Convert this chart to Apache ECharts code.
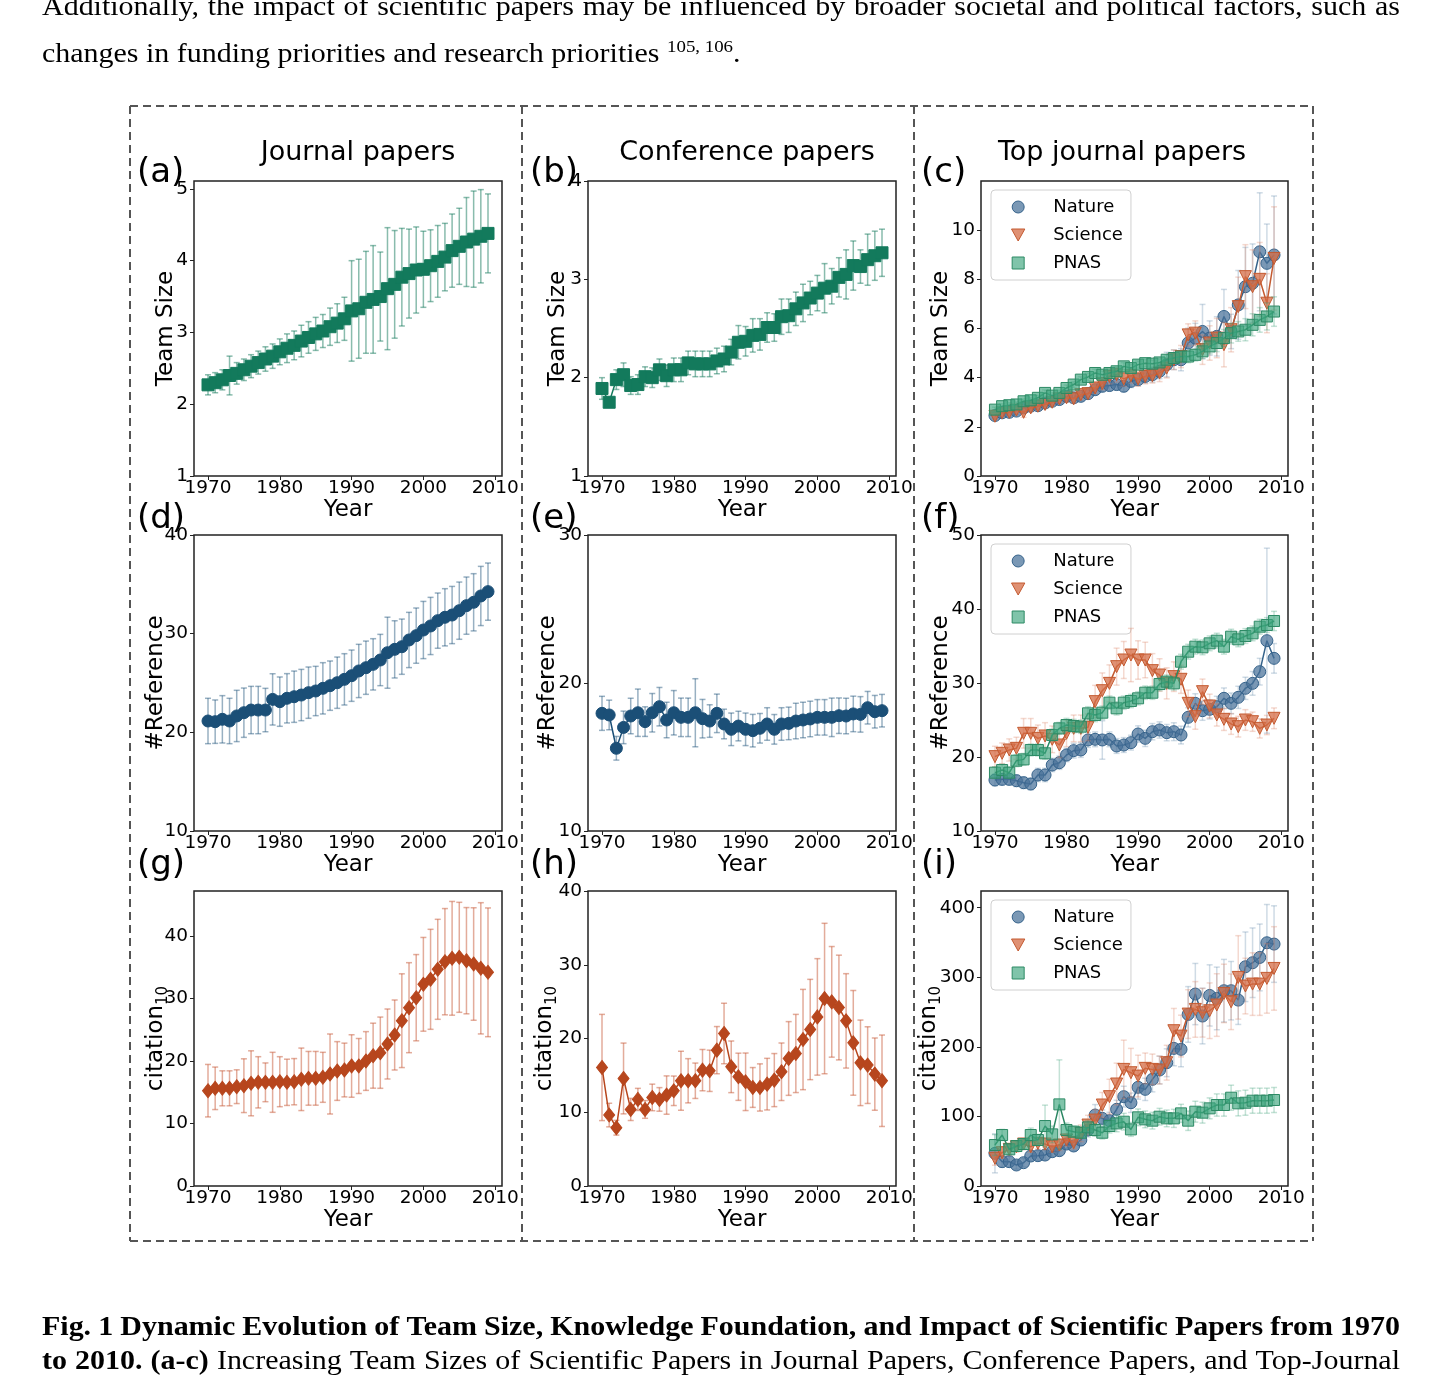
<!DOCTYPE html>
<html>
<head>
<meta charset="utf-8">
<script src="https://cdn.jsdelivr.net/npm/echarts@6/dist/echarts.min.js"></script>
<style>
html, body { margin: 0; padding: 0; background: #fff; }
#main { width: 1444px; height: 1382px; }
</style>
</head>
<body>
<div id="main"></div>
<script>
// years shared by every panel
var years = [1970,1971,1972,1973,1974,1975,1976,1977,1978,1979,1980,1981,1982,1983,1984,1985,1986,1987,1988,1989,
             1990,1991,1992,1993,1994,1995,1996,1997,1998,1999,2000,2001,2002,2003,2004,2005,2006,2007,2008,2009];
var xTicks = [1970, 1980, 1990, 2000, 2010];
var journals = ['Nature', 'Science', 'PNAS'];

// (a) team size, journal papers
var jTeam    = [2.27,2.30,2.34,2.40,2.43,2.48,2.53,2.58,2.63,2.67,2.73,2.78,2.82,2.88,2.93,2.98,3.02,3.08,3.13,3.19,
                3.30,3.33,3.42,3.46,3.50,3.61,3.67,3.77,3.82,3.87,3.88,3.93,3.99,4.05,4.14,4.20,4.26,4.30,4.34,4.38];
var jTeamErr = [0.14,0.14,0.14,0.27,0.15,0.15,0.16,0.16,0.17,0.17,0.18,0.20,0.20,0.22,0.22,0.23,0.23,0.26,0.27,0.30,
                0.70,0.69,0.71,0.75,0.62,0.85,0.75,0.68,0.62,0.60,0.53,0.50,0.50,0.47,0.51,0.53,0.62,0.67,0.65,0.55];
// (b) team size, conference papers
var cTeam    = [1.89,1.75,1.98,2.03,1.92,1.93,2.01,2.00,2.08,2.02,2.08,2.08,2.15,2.14,2.14,2.14,2.17,2.19,2.26,2.36,
                2.37,2.43,2.44,2.51,2.51,2.62,2.63,2.70,2.76,2.81,2.86,2.91,2.93,3.02,3.05,3.14,3.13,3.20,3.24,3.27];
var cTeamErr = [0.11,0.05,0.10,0.12,0.09,0.10,0.10,0.10,0.11,0.11,0.12,0.12,0.12,0.13,0.13,0.13,0.13,0.13,0.13,0.17,
                0.15,0.17,0.16,0.15,0.14,0.18,0.17,0.17,0.19,0.17,0.18,0.25,0.18,0.20,0.25,0.25,0.17,0.26,0.25,0.24];
// (c) team size, top journals
var nTeam    = [2.46,2.57,2.59,2.64,2.77,2.84,2.86,2.97,3.04,3.11,3.24,3.18,3.24,3.35,3.51,3.65,3.68,3.72,3.65,3.85,
                3.92,4.05,4.12,4.26,4.53,4.73,4.73,5.41,5.61,5.88,5.61,5.68,6.49,5.88,6.96,7.70,7.84,9.12,8.65,8.99];
var nTeamErr = [0.12,0.12,0.12,0.13,0.15,0.15,0.15,0.15,0.15,0.15,0.18,0.18,0.18,0.20,0.20,0.22,0.22,0.22,0.22,0.25,
                0.25,0.27,0.30,0.30,0.50,0.40,0.45,0.60,0.60,1.10,0.70,0.80,1.10,0.70,1.40,1.60,1.60,2.40,1.60,2.40];
var sTeam    = [2.43,2.57,2.59,2.68,2.59,2.77,2.84,2.91,3.00,3.14,3.18,3.14,3.31,3.35,3.58,3.76,4.05,4.12,3.95,4.08,
                3.95,4.05,4.08,4.19,4.39,4.73,4.86,5.74,5.81,5.14,5.41,5.61,5.34,5.95,6.89,8.11,7.70,8.00,7.03,8.85];
var sTeamErr = [0.12,0.12,0.12,0.12,0.20,0.15,0.15,0.15,0.15,0.15,0.18,0.18,0.20,0.20,0.22,0.25,0.30,0.30,0.30,0.30,
                0.30,0.30,0.30,0.35,0.40,0.40,0.45,0.45,0.50,0.60,0.70,0.80,0.90,0.90,1.20,1.30,1.50,1.50,1.20,2.10];
var pTeam    = [2.70,2.84,2.88,2.91,3.04,3.08,3.18,3.38,3.27,3.38,3.58,3.72,3.92,4.03,4.19,4.12,4.19,4.26,4.46,4.39,
                4.53,4.59,4.57,4.62,4.73,4.80,4.86,4.86,4.93,5.07,5.27,5.41,5.61,5.81,5.88,5.95,6.15,6.35,6.49,6.69];
var pTeamErr = [0.10,0.10,0.10,0.10,0.10,0.10,0.10,0.12,0.12,0.12,0.12,0.12,0.12,0.15,0.15,0.15,0.15,0.15,0.15,0.15,
                0.15,0.15,0.15,0.15,0.20,0.20,0.20,0.25,0.25,0.30,0.30,0.35,0.35,0.40,0.40,0.45,0.45,0.50,0.55,0.60];

// (d) #reference, journal papers
var jRef    = [21.15,21.08,21.32,21.15,21.66,21.99,22.26,22.26,22.26,23.34,23.11,23.45,23.61,23.78,24.02,24.19,24.46,24.73,25.03,25.37,
               25.74,26.22,26.55,26.89,27.33,28.07,28.41,28.68,29.36,29.80,30.37,30.78,31.32,31.66,31.89,32.33,32.84,33.18,33.82,34.26];
var jRefErr = [2.3,2.2,2.4,2.3,2.6,2.5,2.4,2.4,2.2,2.6,2.5,2.5,2.6,2.6,2.6,2.5,2.6,2.5,2.6,2.6,
               2.6,2.7,2.7,2.6,2.6,3.6,2.9,2.8,2.8,2.8,2.9,2.9,2.8,2.9,2.9,2.9,2.9,2.9,3.0,2.9];
// (e) #reference, conference papers
var cRef    = [17.95,17.84,15.59,17.00,17.77,17.99,17.39,17.99,18.40,17.50,17.99,17.68,17.68,17.99,17.59,17.43,17.95,17.23,16.87,17.09,
               16.87,16.78,16.94,17.23,16.87,17.23,17.27,17.43,17.50,17.57,17.68,17.68,17.68,17.79,17.77,17.91,17.88,18.33,18.06,18.13];
var cRefErr = [1.15,1.0,0.8,1.1,1.2,1.6,1.0,1.3,1.3,1.2,1.5,1.3,1.3,2.3,1.3,1.1,1.3,1.0,1.1,1.0,
               1.1,1.1,1.0,1.1,1.0,1.1,1.1,1.2,1.2,1.2,1.2,1.2,1.3,1.2,1.2,1.2,1.2,1.1,1.1,1.1];
// (f) #reference, top journals
var nRef    = [16.89,16.98,16.98,16.80,16.53,16.35,17.57,17.57,18.92,19.23,20.27,20.86,20.95,22.30,22.39,22.30,22.39,21.49,21.62,21.94,
               23.11,22.52,23.42,23.65,23.29,23.42,22.97,25.36,27.25,26.26,26.44,26.80,27.93,27.25,28.06,29.28,29.95,31.53,35.72,33.33];
var nRefErr = [0.8,0.8,0.8,0.8,0.8,0.8,0.9,0.9,0.9,0.9,0.9,1.0,1.0,1.0,1.0,2.6,1.0,1.0,1.0,1.0,
               1.1,1.1,1.1,1.1,1.1,1.2,1.2,1.3,1.3,1.3,1.3,1.4,1.4,1.4,1.5,1.5,1.6,1.8,12.5,2.0];
var sRef    = [20.05,20.50,20.95,21.17,23.20,23.20,22.52,22.84,22.39,21.62,23.20,23.87,23.87,24.01,27.48,28.96,29.95,32.21,33.11,33.78,
               33.11,33.11,31.67,31.08,29.95,30.86,30.50,27.25,25.45,28.83,26.89,25.68,25.09,24.46,24.10,25.00,24.77,23.87,24.32,25.23];
var sRefErr = [1.4,1.4,1.5,1.5,2.0,2.0,1.8,1.8,1.8,1.7,1.8,1.8,1.8,1.8,2.2,2.4,2.5,2.5,2.5,3.6,
               2.6,2.4,2.3,2.2,2.1,2.0,1.9,1.8,1.7,1.7,1.6,1.5,1.5,1.4,1.4,1.4,1.3,1.3,1.3,1.4];
var pRef    = [17.88,18.24,17.88,19.50,19.68,20.95,20.95,20.50,22.97,23.87,24.32,24.19,24.10,25.90,25.68,25.99,27.34,26.58,27.34,27.57,
               27.93,28.69,28.69,29.86,30.18,29.95,32.88,34.23,34.91,34.82,35.36,35.72,34.91,36.26,35.90,36.35,36.71,37.61,37.84,38.38];
var pRefErr = [0.8,0.8,0.8,0.8,0.8,0.8,0.8,0.8,0.8,0.8,0.9,0.9,0.9,0.9,0.9,0.9,0.9,0.9,0.9,0.9,
               0.9,0.9,0.9,0.9,0.9,0.9,1.0,1.0,1.0,1.0,1.0,1.0,1.0,1.0,1.0,1.0,1.0,1.0,1.0,1.3];

// (g) citation10, journal papers
var jCit    = [15.25,15.63,15.63,15.63,15.89,16.05,16.43,16.59,16.59,16.59,16.69,16.59,16.69,17.07,17.23,17.23,17.39,17.92,18.40,18.56,
               19.20,19.20,20.00,20.85,21.33,22.72,24.16,26.45,28.53,30.13,32.27,33.07,34.67,35.89,36.43,36.59,36.05,35.52,34.83,34.19];
var jCitErr = [4.2,3.4,2.8,2.8,2.7,4.3,5.2,4.1,3.1,4.8,4.0,3.7,3.7,5.0,4.3,4.3,4.0,6.4,4.7,4.3,
               5.0,4.4,4.7,5.2,5.7,5.6,5.6,7.5,7.2,6.9,7.5,8.0,8.0,8.5,9.1,8.8,8.5,9.0,10.5,10.3];
// (h) citation10, conference papers
var cCit    = [16.07,9.62,7.90,14.58,10.38,11.74,10.38,12.01,11.74,12.33,12.91,14.27,14.27,14.27,15.71,15.62,18.42,20.68,16.16,14.81,
               14.13,13.36,13.36,13.81,14.36,15.49,17.29,17.97,19.86,21.22,22.93,25.42,24.97,24.20,22.39,19.41,16.70,16.39,15.17,14.27];
var cCitErr = [7.2,1.6,1.0,4.8,1.5,1.5,1.2,1.8,1.6,2.6,2.0,4.0,3.0,2.4,2.8,2.8,3.2,4.1,3.5,3.2,
               3.9,2.7,3.2,3.5,3.6,3.9,5.0,5.3,6.8,6.8,7.9,10.2,7.5,7.1,6.4,7.1,5.8,5.2,4.9,6.2];
// (i) citation10, top journals
var nCit    = [46.9,35.0,35.0,30.2,33.5,43.1,43.6,44.5,49.3,50.8,60.3,57.5,66.1,80.5,102.0,97.2,93.9,110.2,128.4,119.7,
               141.8,138.9,153.3,166.7,177.2,197.8,196.4,246.6,275.9,244.3,273.9,269.6,280.7,280.7,267.2,315.1,320.9,328.5,349.6,347.7];
var nCitErr = [28,8,8,6,6,7,7,7,7,7,7,7,8,10,15,12,12,13,15,14,
               17,16,18,20,20,25,25,40,44,40,44,45,45,42,35,50,50,48,55,55];
var sCit    = [39.8,47.9,52.7,56.5,60.3,56.5,61.3,60.3,56.5,58.9,66.1,62.3,75.7,87.6,94.8,116.4,128.4,146.6,167.6,162.8,
               158.0,169.1,167.6,166.7,177.2,223.2,215.5,247.1,253.8,249.0,251.9,260.1,276.8,264.8,299.8,287.4,290.2,290.2,298.4,312.7];
var sCitErr = [10,8,8,8,8,8,8,8,8,8,9,9,12,14,15,18,25,30,42,35,
               30,22,22,20,25,32,30,35,40,35,40,45,42,40,60,40,45,45,50,60];
var pCit    = [58.9,73.3,52.7,57.5,60.3,73.3,66.1,86.2,74.2,117.3,80.5,78.1,76.6,84.3,80.5,76.6,86.2,90.0,92.4,81.4,
               98.7,95.8,93.9,99.6,97.2,97.2,104.4,93.9,106.8,105.4,111.6,116.4,116.4,126.9,118.8,119.7,122.6,122.6,122.6,123.6];
var pCitErr = [15,8,7,7,7,10,8,30,12,64,10,8,8,10,9,9,10,12,12,10,
               12,12,12,12,12,13,13,14,15,15,15,16,16,18,18,18,18,18,18,18];

var FONT = 'DejaVu Sans';
var SERIF = '"Liberation Serif", "Times New Roman", serif';

// marker / colour styles
var TRI = 'path://M0,0L10,0L5,9Z';
var SQUARE = 'path://M0,0L10,0L10,10L0,10Z';
var styles = {
    green:   { name: 'g', symbol: 'rect', size: 12, color: '#137a5c', border: '#137a5c', line: '#137a5c', err: 'rgba(19,122,92,0.5)' },
    blue:    { name: 'b', symbol: 'circle', size: 12, color: '#1b4f77', border: '#1b4f77', line: '#1b4f77', err: 'rgba(27,79,119,0.45)' },
    orange:  { name: 'o', symbol: 'diamond', size: [11, 14], color: '#b7461d', border: '#b7461d', line: '#b7461d', err: 'rgba(200,90,55,0.5)' },
    Nature:  { name: 'Nature', symbol: 'circle', size: 12, color: 'rgba(70,112,152,0.72)', border: '#36638b', line: '#34628a', err: 'rgba(95,135,170,0.3)' },
    Science: { name: 'Science', symbol: TRI, size: 12, color: 'rgba(212,108,70,0.75)', border: '#c45a30', line: '#c45a30', err: 'rgba(220,130,100,0.3)' },
    PNAS:    { name: 'PNAS', symbol: 'rect', size: 11, color: 'rgba(60,165,125,0.65)', border: '#2d8a65', line: '#2a8662', err: 'rgba(60,160,120,0.3)' }
};
var legendIcons = { Nature: 'circle', Science: TRI, PNAS: SQUARE };

var cols = [194, 588, 981], colW = [308, 308, 307];
var rows = [181, 535, 891], rowH = [295, 296, 295];

var panels = [
    { c: 0, r: 0, ymin: 1, ymax: 5.11, yt: [1,2,3,4,5], yname: 'Team Size', gap: 16, lines: [[jTeam, jTeamErr, 'green']] },
    { c: 1, r: 0, ymin: 1, ymax: 4, yt: [1,2,3,4], yname: 'Team Size', gap: 18, lines: [[cTeam, cTeamErr, 'green']] },
    { c: 2, r: 0, ymin: 0, ymax: 12, yt: [0,2,4,6,8,10], yname: 'Team Size', gap: 28, legend: true,
      lines: [[nTeam, nTeamErr, 'Nature'], [sTeam, sTeamErr, 'Science'], [pTeam, pTeamErr, 'PNAS']] },
    { c: 0, r: 1, ymin: 10, ymax: 40, yt: [10,20,30,40], yname: '#Reference', gap: 26, lines: [[jRef, jRefErr, 'blue']] },
    { c: 1, r: 1, ymin: 10, ymax: 30, yt: [10,20,30], yname: '#Reference', gap: 28, lines: [[cRef, cRefErr, 'blue']] },
    { c: 2, r: 1, ymin: 10, ymax: 50, yt: [10,20,30,40,50], yname: '#Reference', gap: 28, legend: true,
      lines: [[nRef, nRefErr, 'Nature'], [sRef, sRefErr, 'Science'], [pRef, pRefErr, 'PNAS']] },
    { c: 0, r: 2, ymin: 0, ymax: 47.2, yt: [0,10,20,30,40], yname: 'cit', gap: 23, lines: [[jCit, jCitErr, 'orange']] },
    { c: 1, r: 2, ymin: 0, ymax: 40, yt: [0,10,20,30,40], yname: 'cit', gap: 28, lines: [[cCit, cCitErr, 'orange']] },
    { c: 2, r: 2, ymin: 0, ymax: 424, yt: [0,100,200,300,400], yname: 'cit', gap: 37, legend: true,
      lines: [[nCit, nCitErr, 'Nature'], [sCit, sCitErr, 'Science'], [pCit, pCitErr, 'PNAS']] }
];

// vertical error bars with caps, positioned through the grid's own scales
function errorSeries(k, mean, err, color, z) {
    return {
        type: 'custom', xAxisIndex: k, yAxisIndex: k, z: z, silent: true,
        data: years.map(function (y, i) { return [y, mean[i] - err[i], mean[i] + err[i]]; }),
        encode: { x: 0, y: [1, 2] },
        renderItem: function (params, api) {
            var lo = api.coord([api.value(0), api.value(1)]);
            var hi = api.coord([api.value(0), api.value(2)]);
            var st = { stroke: color, lineWidth: 1.5 };
            return { type: 'group', children: [
                { type: 'line', shape: { x1: lo[0], y1: lo[1], x2: hi[0], y2: hi[1] }, style: st },
                { type: 'line', shape: { x1: lo[0] - 3, y1: lo[1], x2: lo[0] + 3, y2: lo[1] }, style: st },
                { type: 'line', shape: { x1: hi[0] - 3, y1: hi[1], x2: hi[0] + 3, y2: hi[1] }, style: st }
            ] };
        }
    };
}

var option = {
    animation: false,
    backgroundColor: '#fff',
    grid: [], xAxis: [], yAxis: [], series: [], legend: [], graphic: []
};

var plain = function (v) { return String(v); };

panels.forEach(function (p, k) {
    option.grid.push({
        left: cols[p.c], top: rows[p.r], width: colW[p.c], height: rowH[p.r],
        show: true, borderColor: '#222', borderWidth: 1.5, backgroundColor: 'transparent',
        containLabel: false, outerBoundsMode: 'none'
    });
    option.xAxis.push({
        type: 'value', gridIndex: k, min: 1968.05, max: 2010.95,
        name: 'Year', nameLocation: 'middle', nameGap: 23, nameMoveOverlap: false,
        nameTextStyle: { fontSize: 23, fontFamily: FONT, color: '#000' },
        axisLine: { show: false, onZero: false },
        axisTick: { show: true, length: 4, lineStyle: { color: '#222', width: 1 }, customValues: xTicks },
        axisLabel: { customValues: xTicks, formatter: plain, fontSize: 18.5, fontFamily: FONT, color: '#000', margin: 3 },
        splitLine: { show: false }
    });
    var yname = p.yname === 'cit' ? '{m|citation}{s|10}' : p.yname;
    option.yAxis.push({
        type: 'value', gridIndex: k, min: p.ymin, max: p.ymax,
        name: yname, nameLocation: 'middle', nameGap: p.gap, nameRotate: 90, nameMoveOverlap: false,
        nameTextStyle: {
            fontSize: 23, fontFamily: FONT, color: '#000',
            rich: {
                m: { fontSize: 23, fontFamily: FONT, color: '#000', lineHeight: 30 },
                s: { fontSize: 15, fontFamily: FONT, color: '#000', lineHeight: 16, verticalAlign: 'bottom' }
            }
        },
        axisLine: { show: false, onZero: false },
        axisTick: { show: true, length: 4, lineStyle: { color: '#222', width: 1 }, customValues: p.yt },
        axisLabel: { customValues: p.yt, formatter: plain, fontSize: 18.5, fontFamily: FONT, color: '#000', margin: 6 },
        splitLine: { show: false }
    });
    p.lines.forEach(function (ln, j) {
        var s = styles[ln[2]];
        option.series.push(errorSeries(k, ln[0], ln[1], s.err, 2 + j * 2));
        option.series.push({
            type: 'line', name: s.name, xAxisIndex: k, yAxisIndex: k, z: 3 + j * 2, silent: true,
            data: years.map(function (y, i) { return [y, ln[0][i]]; }),
            symbol: s.symbol, symbolSize: s.size, showSymbol: true,
            lineStyle: { color: s.line, width: 1.5 },
            itemStyle: { color: s.color, borderColor: s.border, borderWidth: 1 },
            emphasis: { disabled: true }
        });
    });
    if (p.legend) {
        option.legend.push({
            orient: 'vertical', left: 991, top: rows[p.r] + 9,
            padding: [7, 8, 7, 20], itemWidth: 38, itemHeight: 12, itemGap: 8,
            borderColor: '#d0d0d0', borderWidth: 1, borderRadius: 4,
            backgroundColor: 'rgba(255,255,255,0.85)', selectedMode: false,
            textStyle: { fontSize: 18, fontFamily: FONT, color: '#000', lineHeight: 20, padding: [0, 0, 0, 11] },
            data: journals.map(function (name) {
                var s = styles[name];
                return { name: name, icon: legendIcons[name],
                         itemStyle: { color: s.color, borderColor: s.border, borderWidth: 1 } };
            })
        });
    }
});

// dashed column frames
var dash = { stroke: '#555', lineWidth: 2, lineDash: [8, 5] };
[130, 522, 914, 1313].forEach(function (x) {
    option.graphic.push({ type: 'line', shape: { x1: x, y1: 106, x2: x, y2: 1241 }, style: dash });
});
[106, 1241].forEach(function (y) {
    option.graphic.push({ type: 'line', shape: { x1: 130, y1: y, x2: 1313, y2: y }, style: dash });
});

function label(text, x, y, size, align) {
    return { type: 'text', x: x, y: y, style: {
        text: text, fontSize: size, fontFamily: FONT, fill: '#000',
        textAlign: align, align: align, textVerticalAlign: 'middle', verticalAlign: 'middle' } };
}
option.graphic.push(label('Journal papers', 358, 153, 27, 'center'));
option.graphic.push(label('Conference papers', 747, 153, 27, 'center'));
option.graphic.push(label('Top journal papers', 1122, 153, 27, 'center'));
var letters = ['(a)', '(b)', '(c)', '(d)', '(e)', '(f)', '(g)', '(h)', '(i)'];
var letterX = [137, 530, 921], letterY = [173, 519, 865];
letters.forEach(function (t, i) {
    option.graphic.push(label(t, letterX[i % 3], letterY[Math.floor(i / 3)], 34, 'left'));
});

// justified paragraph lines of the surrounding document text (serif, slightly widened)
var SX = 1.11;
var measureCtx = document.createElement('canvas').getContext('2d');
function justifyLine(segs, y, x0, x1) {
    var words = [], total = 0, els = [];
    segs.forEach(function (s) {
        s[0].split(' ').forEach(function (w) { if (w) words.push({ text: w, font: s[1] }); });
    });
    words.forEach(function (w) {
        measureCtx.font = w.font;
        w.width = measureCtx.measureText(w.text).width * SX;
        total += w.width;
    });
    var gap = (x1 - x0 - total) / (words.length - 1), x = x0;
    words.forEach(function (w) {
        els.push({ type: 'text', x: x, y: y, scaleX: SX, style: { text: w.text, font: w.font, fill: '#000',
                   textVerticalAlign: 'middle', verticalAlign: 'middle' } });
        x += w.width + gap;
    });
    return els;
}
var reg = '27px ' + SERIF, bold = 'bold 27px ' + SERIF;
option.graphic = option.graphic.concat(
    justifyLine([['Additionally, the impact of scientific papers may be influenced by broader societal and political factors, such as', reg]], 8, 42, 1400),
    justifyLine([['Fig. 1 Dynamic Evolution of Team Size, Knowledge Foundation, and Impact of Scientific Papers from 1970', bold]], 1328, 42, 1400),
    justifyLine([['to 2010. (a-c)', bold], ['Increasing Team Sizes of Scientific Papers in Journal Papers, Conference Papers, and Top-Journal', reg]], 1362, 42, 1400)
);
option.graphic.push({ type: 'text', x: 42, y: 55, scaleX: SX, style: {
    text: '{t|changes in funding priorities and research priorities }{u|105, 106}{t|.}',
    rich: {
        t: { fontSize: 27, fontFamily: SERIF, fill: '#000', lineHeight: 30 },
        u: { fontSize: 17, fontFamily: SERIF, fill: '#000', lineHeight: 30, padding: [0, 0, 14, 0] }
    },
    textVerticalAlign: 'middle', verticalAlign: 'middle' } });

var chart = echarts.init(document.getElementById('main'));
chart.setOption(option);
</script>
</body>
</html>
